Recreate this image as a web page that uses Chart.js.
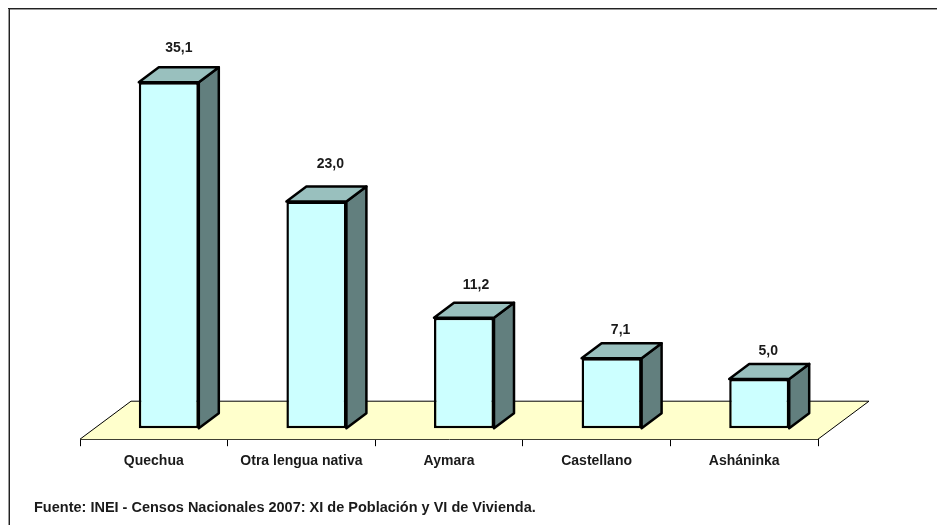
<!DOCTYPE html>
<html>
<head>
<meta charset="utf-8">
<script src="https://cdn.jsdelivr.net/npm/chart.js@4"></script>
<style>
  html, body { margin: 0; padding: 0; background: #fff; }
  #wrap { width: 937px; height: 525px; }
</style>
</head>
<body>
<div id="wrap"><canvas id="chart" width="937" height="525"></canvas></div>
<script>
const categories = ["Quechua", "Otra lengua nativa", "Aymara", "Castellano", "Asháninka"];
const values = [35.1, 23.0, 11.2, 7.1, 5.0];
const source = "Fuente: INEI - Censos Nacionales 2007: XI de Población y VI de Vivienda.";

const FRONT = "#CCFFFF", TOP = "#99C0BE", SIDE = "#627F7E", FLOOR = "#FFFFCC", INK = "#000", TEXT = "#1a1a1a";
const FAMILY = "'Liberation Sans', Arial, sans-serif";
const BAR_DX = 15;                // bars stand halfway back on the floor
const DEPTH_X = 20, DEPTH_Y = 15; // box depth
const FLOOR_X = 51, FLOOR_Y = 38;
const EDGE = 2.5;
// label offsets from the box
const labelDx = [10, 14, 12, 9, 9];
const labelDy = [-34, -37, -33, -28, -28];

function poly(ctx, pts, fill, stroke, lw) {
  ctx.beginPath();
  pts.forEach((p, i) => i ? ctx.lineTo(p[0], p[1]) : ctx.moveTo(p[0], p[1]));
  ctx.closePath();
  if (fill) { ctx.fillStyle = fill; ctx.fill(); }
  if (stroke) { ctx.strokeStyle = stroke; ctx.lineWidth = lw; ctx.lineJoin = "round"; ctx.stroke(); }
}

const scene = {
  id: "scene",
  beforeDatasetsDraw(chart) {
    const { ctx, chartArea: a } = chart;
    // floor
    poly(ctx, [[a.left, a.bottom], [a.right, a.bottom], [a.right + FLOOR_X, a.bottom - FLOOR_Y], [a.left + FLOOR_X, a.bottom - FLOOR_Y]], FLOOR, null);
    ctx.strokeStyle = INK;
    ctx.lineWidth = 1;
    ctx.beginPath();
    ctx.moveTo(a.left, a.bottom); ctx.lineTo(a.left + FLOOR_X, a.bottom - FLOOR_Y);
    ctx.lineTo(a.right + FLOOR_X, a.bottom - FLOOR_Y); ctx.lineTo(a.right, a.bottom);
    ctx.stroke();
    ctx.save();
    ctx.translate(BAR_DX, 0);
    // top and side faces hang off the bar element
    chart.getDatasetMeta(0).data.forEach(bar => {
      const l = bar.x - bar.width / 2, r = bar.x + bar.width / 2, t = bar.y, b = bar.base;
      poly(ctx, [[r, t], [r + DEPTH_X, t - DEPTH_Y], [r + DEPTH_X, b - DEPTH_Y], [r, b]], SIDE, INK, EDGE);
      poly(ctx, [[l, t], [l + DEPTH_X, t - DEPTH_Y], [r + DEPTH_X, t - DEPTH_Y], [r, t]], TOP, INK, EDGE);
    });
  },
  afterDatasetsDraw(chart) {
    const { ctx } = chart;
    ctx.restore();
    ctx.fillStyle = TEXT;
    ctx.font = "bold 14px " + FAMILY;
    ctx.textAlign = "center";
    ctx.textBaseline = "middle";
    chart.getDatasetMeta(0).data.forEach((bar, i) => {
      const txt = values[i].toFixed(1).replace(".", ",");
      ctx.fillText(txt, bar.x + BAR_DX + labelDx[i], bar.y + labelDy[i]);
    });
    ctx.textAlign = "left";
    ctx.font = "bold 14.5px " + FAMILY;
    ctx.fillText(source, 34, 508);
    // outer frame, only top and left are inside the photo
    ctx.fillStyle = "#999";
    ctx.fillRect(8, 8, 1, 517);
    ctx.fillRect(8, 9, 929, 1);
    ctx.fillStyle = "#222";
    ctx.fillRect(9, 8, 1, 517);
    ctx.fillRect(8, 8, 929, 1);
  }
};

new Chart(document.getElementById("chart"), {
  type: "bar",
  data: {
    labels: categories,
    datasets: [{
      data: values,
      backgroundColor: FRONT,
      borderColor: INK,
      borderWidth: EDGE,
      borderSkipped: false,
      barPercentage: 0.4065,
      categoryPercentage: 1
    }]
  },
  options: {
    responsive: false,
    animation: false,
    layout: { padding: { left: 80, right: 119, top: 34, bottom: 48 } },
    plugins: { legend: { display: false }, tooltip: { enabled: false } },
    scales: {
      y: { display: false, min: -1.12, max: 40 },
      x: {
        grid: { drawOnChartArea: false, color: INK, tickLength: 7, offset: true },
        border: { color: INK, width: 1 },
        ticks: { color: TEXT, font: { family: FAMILY, size: 14, weight: "bold" }, padding: 7, maxRotation: 0 }
      }
    }
  },
  plugins: [scene]
});
</script>
</body>
</html>
